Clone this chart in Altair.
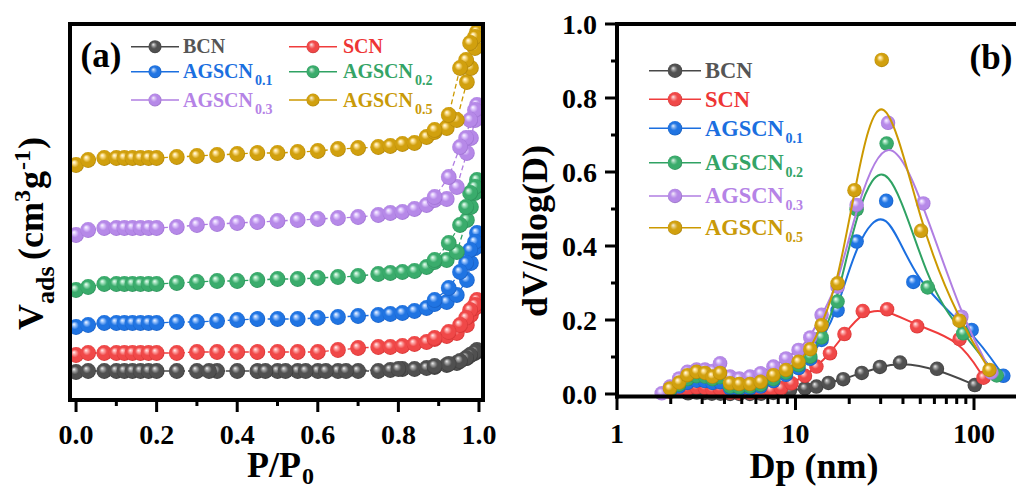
import altair as alt
import pandas as pd

FONT = "Liberation Serif"

# ---------------- series meta ----------------
MAIN = ["BCN", "SCN", "AGSCN", "AGSCN", "AGSCN", "AGSCN"]
SUB = ["", "", "0.1", "0.2", "0.3", "0.5"]
LINE_COLORS = ["#484848", "#f03c3c", "#1b6fe0", "#2fa263", "#b07ee2", "#cc9900"]
TEXT_COLORS = ["#555555", "#ee3535", "#1b6fe0", "#34a466", "#b583e6", "#c99a08"]
BASE = ["#505050", "#f04848", "#2074e2", "#3aac6c", "#b689e8", "#d1a00e"]
LIGHT = ["#b0b0b0", "#ffb0b0", "#a8ccff", "#b0e8c8", "#e6d2ff", "#ffe49a"]
DARK = ["#262626", "#b81e1e", "#0c47a6", "#1c7444", "#8557bd", "#8f6800"]

# ---------------- panel (a): N2 isotherms (offset, arbitrary units) ----------------
ADS_P = [0.0, 0.03, 0.07, 0.10, 0.12, 0.14, 0.16, 0.18, 0.20, 0.25, 0.30, 0.35, 0.40, 0.45,
         0.50, 0.55, 0.60, 0.65, 0.70, 0.75, 0.78, 0.81, 0.84, 0.87, 0.89, 0.92, 0.945, 0.97,
         0.98, 0.99, 0.995]
DES_P = [0.99, 0.978, 0.968, 0.953, 0.925, 0.89]
BCN_DES_P = [0.99, 0.978, 0.968, 0.953, 0.925, 0.89, 0.80, 0.67, 0.62, 0.57, 0.52, 0.47, 0.33]

BCN_ADS = [28, 29, 29, 29, 29, 29, 29, 29, 29, 29, 29, 29, 29, 29, 29, 29, 29, 29, 29, 29,
           30, 31, 31, 32, 33, 35, 37, 42, 45, 47, 50]
SCN_ADS = [45, 47, 47, 47, 47, 47, 47, 47, 47, 47, 48, 48, 48, 48, 48, 48, 48, 50, 52, 53,
           53, 54, 56, 58, 61, 64, 67, 75, 85, 92, 100]
A01_ADS = [73, 75, 77, 77, 77, 77, 77, 77, 77, 78, 78, 79, 80, 81, 81, 81, 82, 83, 84, 85,
           86, 87, 89, 92, 96, 98, 105, 120, 137, 152, 167]
A02_ADS = [110, 113, 116, 116, 116, 116, 116, 116, 116, 117, 118, 119, 119, 120, 121, 121,
           122, 123, 124, 126, 127, 128, 129, 133, 138, 140, 148, 180, 193, 207, 220]
A03_ADS = [165, 170, 172, 172, 172, 172, 172, 172, 172, 173, 175, 176, 177, 178, 179, 180,
           181, 182, 183, 185, 187, 188, 191, 195, 200, 201, 213, 247, 262, 280, 295]
A05_ADS = [235, 240, 242, 242, 242, 242, 242, 242, 242, 243, 244, 245, 246, 247, 247, 248,
           249, 251, 252, 253, 254, 256, 257, 263, 268, 272, 280, 318, 332, 352, 368]

BCN_DES = [48, 45, 42, 39, 36, 34, 31, 29, 29, 29, 29, 29, 29]
SCN_DES = [95, 90, 82, 75, 68, 62]
A01_DES = [158, 150, 137, 128, 112, 100]
A02_DES = [213, 207, 193, 175, 157, 140]
A03_DES = [290, 280, 262, 253, 223, 203]
A05_DES = [363, 357, 340, 332, 285, 270]

# ---------------- panel (b): pore size distribution ----------------
BCN_DP = [2.5, 2.8, 3.1, 3.4, 3.8, 4.3, 4.85, 5.55, 6.4, 7.5, 9.3, 11.3, 13.1, 15.3, 18.5,
          23.5, 29.7, 38.5, 62, 101]
BCN_DV = [0.002, 0.004, 0.003, 0.001, 0.001, 0.0, 0.0, 0.0, 0.001, 0.003, 0.010, 0.015,
          0.020, 0.030, 0.040, 0.057, 0.073, 0.085, 0.068, 0.024]
SCN_DP = [1.98, 2.23, 2.48, 2.79, 3.11, 3.43, 3.78, 4.30, 4.84, 5.56, 6.38, 7.3, 8.3, 9.5,
          11.3, 13.1, 15.6, 18.8, 23.8, 32.6, 48, 83, 113]
SCN_DV = [0.006, 0.010, 0.014, 0.018, 0.017, 0.012, 0.014, 0.004, 0.003, 0.004, 0.006, 0.010,
          0.016, 0.029, 0.049, 0.074, 0.110, 0.162, 0.224, 0.229, 0.183, 0.148, 0.044]
A01_DP = [1.98, 2.23, 2.48, 2.79, 3.11, 3.43, 3.78, 4.30, 4.84, 5.56, 6.38, 7.52, 8.85, 10.4,
          12.1, 14.0, 17.2, 22.0, 32.2, 45.7, 97, 146]
A01_DV = [0.008, 0.020, 0.030, 0.036, 0.035, 0.030, 0.032, 0.015, 0.013, 0.015, 0.020, 0.035,
          0.052, 0.070, 0.095, 0.146, 0.226, 0.412, 0.522, 0.303, 0.173, 0.049]
A02_DP = [1.98, 2.23, 2.48, 2.79, 3.11, 3.43, 3.78, 4.30, 4.84, 5.56, 6.38, 7.52, 8.85, 10.4,
          12.1, 14.0, 17.2, 22.0, 32.4, 55, 87, 134]
A02_DV = [0.010, 0.025, 0.040, 0.048, 0.047, 0.040, 0.045, 0.020, 0.018, 0.020, 0.025, 0.040,
          0.058, 0.078, 0.101, 0.153, 0.250, 0.499, 0.677, 0.288, 0.164, 0.050]
A03_DP = [1.78, 1.98, 2.23, 2.48, 2.79, 3.11, 3.43, 3.78, 4.30, 4.84, 5.56, 6.38, 7.52, 8.85,
          10.4, 12.1, 14.0, 17.2, 22.0, 33.0, 52, 85, 125]
A03_DV = [0.002, 0.020, 0.042, 0.060, 0.066, 0.066, 0.062, 0.083, 0.047, 0.042, 0.047, 0.056,
          0.074, 0.096, 0.119, 0.153, 0.214, 0.290, 0.511, 0.733, 0.515, 0.209, 0.058]
A05_DP = [1.98, 2.23, 2.48, 2.79, 3.11, 3.43, 3.78, 4.30, 4.84, 5.56, 6.38, 7.52, 8.85, 10.4,
          12.1, 14.0, 17.2, 21.4, 30.4, 50.5, 82.8, 122]
A05_DV = [0.015, 0.031, 0.051, 0.060, 0.057, 0.047, 0.057, 0.029, 0.027, 0.027, 0.033, 0.051,
          0.065, 0.087, 0.121, 0.186, 0.299, 0.551, 0.903, 0.441, 0.198, 0.065]

# ---------------- axis tick values ----------------
A_MAJOR = [0.0, 0.2, 0.4, 0.6, 0.8, 1.0]
A_MINOR = [0.1, 0.3, 0.5, 0.7, 0.9]
B_Y_MAJOR = [0.0, 0.2, 0.4, 0.6, 0.8, 1.0]
B_Y_MINOR = [0.1, 0.3, 0.5, 0.7, 0.9]
B_X_MAJOR = [1, 10, 100]
B_X_MINOR = [2, 3, 4, 5, 6, 7, 8, 9, 20, 30, 40, 50, 60, 70, 80, 90]

ADS_LIST = [BCN_ADS, SCN_ADS, A01_ADS, A02_ADS, A03_ADS, A05_ADS]
DES_LIST = [BCN_DES, SCN_DES, A01_DES, A02_DES, A03_DES, A05_DES]
DESP_LIST = [BCN_DES_P, DES_P, DES_P, DES_P, DES_P, DES_P]
DP_LIST = [BCN_DP, SCN_DP, A01_DP, A02_DP, A03_DP, A05_DP]
DV_LIST = [BCN_DV, SCN_DV, A01_DV, A02_DV, A03_DV, A05_DV]

# ---------------- scales (pixel ranges inside a 1008x480 canvas) ----------------
XA = alt.Scale(domain=[-0.015, 1.01], range=[62, 475], nice=False, zero=False)
YA = alt.Scale(domain=[0, 376], range=[392, 16], nice=False, zero=False)
XB = alt.Scale(type="log", domain=[1, 171.9], range=[609, 1008], nice=False)
YB = alt.Scale(domain=[0, 1], range=[386, 16], nice=False, zero=False)

ONE = pd.DataFrame({"k": [0]})


def grad(i):
    return {"gradient": "radial", "x1": 0.36, "y1": 0.32, "r1": 0.0,
            "x2": 0.5, "y2": 0.5, "r2": 0.56,
            "stops": [{"offset": 0.0, "color": "#ffffff"},
                      {"offset": 0.16, "color": LIGHT[i]},
                      {"offset": 0.45, "color": BASE[i]},
                      {"offset": 0.8, "color": BASE[i]},
                      {"offset": 1.0, "color": DARK[i]}]}


OVERLAY = {"gradient": "radial", "x1": 0.36, "y1": 0.32, "r1": 0.0,
           "x2": 0.5, "y2": 0.5, "r2": 0.56,
           "stops": [{"offset": 0.0, "color": "rgba(255,255,255,0.95)"},
                     {"offset": 0.2, "color": "rgba(255,255,255,0.45)"},
                     {"offset": 0.45, "color": "rgba(255,255,255,0)"},
                     {"offset": 0.8, "color": "rgba(0,0,0,0)"},
                     {"offset": 1.0, "color": "rgba(0,0,0,0.35)"}]}


def txt(s, x, y, size, color="black", angle=0, align="left"):
    kw = dict(text=s, font=FONT, fontWeight="bold", fontSize=size, color=color,
              align=align, baseline="alphabetic")
    if angle:
        kw["angle"] = angle
    return alt.Chart(ONE).mark_text(**kw).encode(x=alt.value(x), y=alt.value(y))


# ---------------- panel (a) ----------------
layers_a = []
for i in range(6):
    P = ADS_P + DESP_LIST[i]
    V = ADS_LIST[i] + DES_LIST[i]
    df = pd.DataFrame({"P": P, "V": V, "o": list(range(len(P)))})
    enc = dict(x=alt.X("P:Q", scale=XA, axis=None), y=alt.Y("V:Q", scale=YA, axis=None))
    layers_a.append(alt.Chart(df).mark_line(color=LINE_COLORS[i], strokeWidth=1.3,
                                            strokeDash=[5, 3]).encode(order="o:Q", **enc))
    layers_a.append(alt.Chart(df).mark_circle(size=250, opacity=1, fill=grad(i)).encode(**enc))

layers_a.append(alt.Chart(pd.DataFrame({"P": A_MAJOR})).mark_rule(color="black", strokeWidth=3).encode(
    x=alt.X("P:Q", scale=XA, axis=None), y=alt.value(392), y2=alt.value(404)))
layers_a.append(alt.Chart(pd.DataFrame({"P": A_MINOR})).mark_rule(color="black", strokeWidth=3).encode(
    x=alt.X("P:Q", scale=XA, axis=None), y=alt.value(392), y2=alt.value(398)))
layers_a.append(alt.Chart(pd.DataFrame({"P": A_MAJOR, "lab": [f"{v:.1f}" for v in A_MAJOR]})).mark_text(
    font=FONT, fontWeight="bold", fontSize=28, align="center", baseline="alphabetic", color="black").encode(
    x=alt.X("P:Q", scale=XA, axis=None), y=alt.value(436), text="lab:N"))
layers_a.append(alt.Chart(ONE).mark_rect(fill="white", fillOpacity=0, stroke="black", strokeWidth=4).encode(
    x=alt.value(62), x2=alt.value(475), y=alt.value(16), y2=alt.value(392)))
panel_a = alt.layer(*layers_a)

# ---------------- panel (b) ----------------
layers_b = []
for i in range(6):
    df = pd.DataFrame({"Dp": DP_LIST[i], "dV": DV_LIST[i]})
    enc = dict(x=alt.X("Dp:Q", scale=XB, axis=None), y=alt.Y("dV:Q", scale=YB, axis=None))
    layers_b.append(alt.Chart(df).mark_line(color=LINE_COLORS[i], strokeWidth=2,
                                            interpolate="basis").encode(**enc))
    layers_b.append(alt.Chart(df).mark_circle(size=210, opacity=1, fill=grad(i)).encode(**enc))

layers_b.append(alt.Chart(pd.DataFrame({"dV": B_Y_MAJOR})).mark_rule(color="black", strokeWidth=3).encode(
    y=alt.Y("dV:Q", scale=YB, axis=None), x=alt.value(597), x2=alt.value(609)))
layers_b.append(alt.Chart(pd.DataFrame({"dV": B_Y_MINOR})).mark_rule(color="black", strokeWidth=3).encode(
    y=alt.Y("dV:Q", scale=YB, axis=None), x=alt.value(603), x2=alt.value(609)))
layers_b.append(alt.Chart(pd.DataFrame({"dV": B_Y_MAJOR, "lab": [f"{v:.1f}" for v in B_Y_MAJOR]})).mark_text(
    font=FONT, fontWeight="bold", fontSize=28, align="right", baseline="alphabetic", dy=9.5,
    color="black").encode(y=alt.Y("dV:Q", scale=YB, axis=None), x=alt.value(589), text="lab:N"))
layers_b.append(alt.Chart(pd.DataFrame({"Dp": B_X_MAJOR})).mark_rule(color="black", strokeWidth=3).encode(
    x=alt.X("Dp:Q", scale=XB, axis=None), y=alt.value(388), y2=alt.value(402)))
layers_b.append(alt.Chart(pd.DataFrame({"Dp": B_X_MINOR})).mark_rule(color="black", strokeWidth=3).encode(
    x=alt.X("Dp:Q", scale=XB, axis=None), y=alt.value(388), y2=alt.value(396)))
layers_b.append(alt.Chart(pd.DataFrame({"Dp": B_X_MAJOR, "lab": [str(v) for v in B_X_MAJOR]})).mark_text(
    font=FONT, fontWeight="bold", fontSize=28, align="center", baseline="alphabetic", color="black").encode(
    x=alt.X("Dp:Q", scale=XB, axis=None), y=alt.value(435), text="lab:N"))
for (x1, x2, y1, y2) in [(609, 1008, 16, 16), (609, 609, 14, 390.5), (607, 1008, 388.5, 388.5)]:
    layers_b.append(alt.Chart(ONE).mark_rule(color="black", strokeWidth=4).encode(
        x=alt.value(x1), x2=alt.value(x2), y=alt.value(y1), y2=alt.value(y2)))
panel_b = alt.layer(*layers_b)


# ---------------- legends ----------------
def legend(dot_x, half, text_x, sym_y, cols, font, sub_font, sub_dx, dsize):
    rows = []
    for i in range(6):
        if cols == 2:
            r, c = i // 2, i % 2
            dx, tx, yy = dot_x[c], text_x[c], sym_y[r]
        else:
            dx, tx, yy = dot_x[0], text_x[0], sym_y[i]
        rows.append({"x1": dx - half, "x2": dx + half, "cx": dx, "cy": yy, "tx": tx,
                     "ty": yy + font * 0.33, "sx": tx + sub_dx, "sy": yy + font * 0.33 + 7,
                     "main": MAIN[i], "sub": SUB[i], "lc": LINE_COLORS[i], "bc": BASE[i],
                     "tc": TEXT_COLORS[i]})
    df = pd.DataFrame(rows)
    X = lambda f: alt.X(f, scale=None, axis=None)
    Y = lambda f: alt.Y(f, scale=None, axis=None)
    ls = [
        alt.Chart(df).mark_rule(strokeWidth=1.5).encode(x=X("x1:Q"), x2="x2:Q", y=Y("cy:Q"),
                                                        color=alt.Color("lc:N", scale=None)),
        alt.Chart(df).mark_circle(size=dsize, opacity=1).encode(x=X("cx:Q"), y=Y("cy:Q"),
                                                                color=alt.Color("bc:N", scale=None)),
        alt.Chart(df).mark_circle(size=dsize, opacity=1, fill=OVERLAY).encode(x=X("cx:Q"), y=Y("cy:Q")),
        alt.Chart(df).mark_text(font=FONT, fontWeight="bold", fontSize=font, align="left",
                                baseline="alphabetic").encode(
            x=X("tx:Q"), y=Y("ty:Q"), text="main:N", color=alt.Color("tc:N", scale=None)),
        alt.Chart(df).mark_text(font=FONT, fontWeight="bold", fontSize=sub_font, align="left",
                                baseline="alphabetic").encode(
            x=X("sx:Q"), y=Y("sy:Q"), text="sub:N", color=alt.Color("tc:N", scale=None)),
    ]
    return alt.layer(*ls)


leg_a = legend([147, 305], 24, [175, 335], [38.7, 63.7, 92], 2, 20, 14, 72, 170)
leg_b = legend([667], 26, [697], [62.7, 91.3, 120.3, 154.7, 188, 219.7], 1, 22.5, 14, 80.5, 210)

# ---------------- titles / annotations ----------------
deco = [
    txt("(a)", 93, 59, 35, align="center"),
    txt("(b)", 983, 61, 35, align="center"),
    # x title (a)
    txt("P/P", 293, 469, 36, align="right"),
    txt("0", 294, 476, 24),
    # y title (a)
    txt("V", 35, 322, 36, angle=270),
    txt("ads", 46, 296, 26, angle=270),
    txt("(cm", 35, 252, 36, angle=270),
    txt("3", 22, 194, 24, angle=270),
    txt("g", 35, 181, 36, angle=270),
    txt("-1", 22, 162, 24, angle=270),
    txt(")", 35, 141, 36, angle=270),
    # titles (b)
    txt("Dp (nm)", 806, 470, 36, align="center"),
    txt("dV/dlog(D)", 539, 223, 36, angle=270, align="center"),
]

chart = alt.layer(panel_a, panel_b, leg_a, leg_b, *deco).resolve_scale(
    x="independent", y="independent"
).properties(
    width=1008, height=480, padding=0, autosize=alt.AutoSizeParams(type="none"),
    background="white"
).configure_view(strokeWidth=0)

chart.save("out.html", embed_options={"renderer": "svg", "actions": False})
